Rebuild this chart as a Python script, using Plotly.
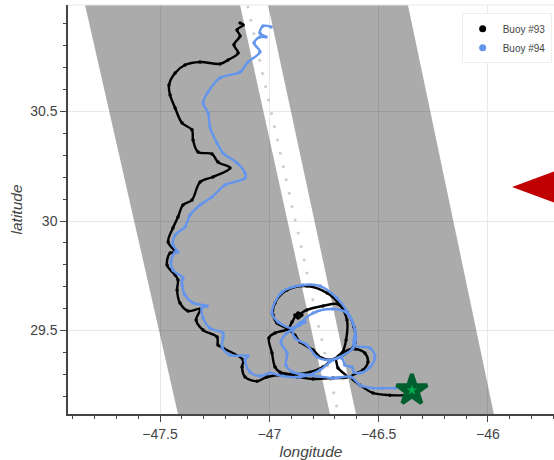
import plotly.graph_objects as go

lon93 = [-46.380,-46.448,-46.526,-46.585,-46.627,-46.572,-46.549,-46.563,-46.608,-46.663,-46.700,-46.668,-46.649,-46.645,-46.677,-46.736,-46.828,-46.919,-46.974,-46.983,-46.965,-46.915,-46.883,-46.860,-46.800,-46.759,-46.700,-46.631,-46.608,-46.613,-46.645,-46.686,-46.755,-46.828,-46.869,-46.883,-46.869,-46.851,-46.869,-46.896,-46.915,-46.974,-47.002,-46.988,-46.974,-46.951,-46.892,-46.814,-46.755,-46.700,-46.686,-46.645,-46.709,-46.800,-46.873,-46.938,-47.011,-47.056,-47.111,-47.125,-47.120,-47.212,-47.235,-47.239,-47.303,-47.335,-47.317,-47.372,-47.409,-47.422,-47.418,-47.431,-47.468,-47.454,-47.431,-47.463,-47.441,-47.418,-47.395,-47.354,-47.317,-47.258,-47.180,-47.235,-47.262,-47.326,-47.349,-47.354,-47.399,-47.431,-47.454,-47.459,-47.431,-47.386,-47.317,-47.226,-47.189,-47.143,-47.162,-47.134,-47.148,-47.120,-47.134]
lat93 = [29.205,29.205,29.215,29.251,29.288,29.320,29.356,29.397,29.416,29.402,29.370,29.397,29.457,29.548,29.616,29.671,29.703,29.685,29.626,29.571,29.534,29.507,29.479,29.448,29.411,29.374,29.370,29.411,29.443,29.516,29.584,29.621,29.612,29.594,29.571,29.571,29.557,29.571,29.580,29.539,29.507,29.489,29.466,29.397,29.333,29.310,29.301,29.310,29.333,29.370,29.329,29.288,29.283,29.279,29.288,29.297,29.288,29.269,29.288,29.333,29.365,29.420,29.434,29.470,29.502,29.548,29.598,29.589,29.626,29.685,29.731,29.753,29.799,29.854,29.858,29.904,29.968,30.018,30.073,30.096,30.178,30.201,30.242,30.269,30.306,30.315,30.370,30.416,30.447,30.516,30.575,30.621,30.676,30.712,30.726,30.717,30.735,30.767,30.804,30.845,30.872,30.895,30.904]

lon94 = [-46.425,-46.480,-46.526,-46.585,-46.627,-46.709,-46.814,-46.892,-46.924,-46.919,-46.947,-46.919,-46.860,-46.837,-46.860,-46.892,-46.883,-46.828,-46.782,-46.732,-46.691,-46.617,-46.604,-46.631,-46.691,-46.768,-46.846,-46.942,-46.988,-46.960,-46.896,-46.860,-46.800,-46.713,-46.645,-46.608,-46.613,-46.540,-46.517,-46.540,-46.585,-46.613,-46.622,-46.654,-46.668,-46.709,-46.768,-46.860,-46.938,-46.997,-47.043,-47.088,-47.111,-47.098,-47.180,-47.216,-47.212,-47.212,-47.271,-47.303,-47.308,-47.285,-47.349,-47.386,-47.399,-47.399,-47.395,-47.441,-47.450,-47.431,-47.418,-47.441,-47.431,-47.386,-47.363,-47.317,-47.262,-47.203,-47.111,-47.111,-47.148,-47.212,-47.239,-47.271,-47.280,-47.303,-47.280,-47.226,-47.134,-47.098,-47.043,-47.070,-47.043,-47.015,-47.043,-47.029,-46.992]
lat94 = [29.237,29.237,29.237,29.251,29.288,29.283,29.297,29.310,29.342,29.397,29.448,29.489,29.525,29.539,29.534,29.502,29.466,29.434,29.379,29.365,29.374,29.420,29.470,29.562,29.648,29.703,29.708,29.676,29.580,29.539,29.511,29.534,29.580,29.598,29.580,29.502,29.434,29.420,29.379,29.333,29.306,29.310,29.333,29.342,29.374,29.365,29.320,29.288,29.292,29.306,29.292,29.310,29.365,29.384,29.388,29.425,29.466,29.489,29.511,29.557,29.603,29.612,29.626,29.662,29.708,29.731,29.740,29.776,29.813,29.858,29.858,29.890,29.936,29.973,30.027,30.073,30.110,30.164,30.196,30.219,30.265,30.310,30.356,30.425,30.493,30.539,30.589,30.653,30.680,30.726,30.772,30.813,30.840,30.840,30.858,30.890,30.886]

nadir_lon = [-47.098,-47.085,-47.071,-47.058,-47.044,-47.031,-47.017,-47.004,-46.990,-46.977,-46.963,-46.950,-46.936,-46.923,-46.909,-46.896,-46.882,-46.868,-46.855,-46.841,-46.828,-46.814,-46.801,-46.787,-46.774,-46.760,-46.747,-46.733,-46.720,-46.706,-46.693]
nadir_lat = [30.977,30.916,30.856,30.795,30.734,30.673,30.613,30.552,30.491,30.431,30.370,30.309,30.248,30.188,30.127,30.066,30.005,29.945,29.884,29.823,29.763,29.702,29.641,29.581,29.520,29.459,29.398,29.338,29.277,29.216,29.156]

swath_w_lon = [-47.843,-47.134,-46.723,-47.418]
swath_w_lat = [30.986,30.986,29.119,29.119]
swath_e_lon = [-47.006,-46.366,-45.973,-46.604]
swath_e_lat = [30.986,30.986,29.119,29.119]

star_lon = [-46.348]
star_lat = [29.228]
ship_lon = [-45.890,-45.602,-45.602]
ship_lat = [30.155,30.262,30.049]

x_ticks = [-47.5,-47,-46.5,-46]
y_ticks = [29.5,30,30.5]
x_range = [-47.921,-45.698]
y_range = [29.119,30.986]

BLACK = "#000000"
BLUE = "#6495ed"
GREY = "rgba(0,0,0,0.33)"

fig = go.Figure()
for lo, la in [(swath_w_lon, swath_w_lat), (swath_e_lon, swath_e_lat)]:
    fig.add_trace(go.Scatter(x=lo, y=la, mode="lines", fill="toself", fillcolor=GREY,
                             line=dict(width=0), showlegend=False, hoverinfo="skip"))
fig.add_trace(go.Scatter(x=nadir_lon, y=nadir_lat, mode="markers",
                         marker=dict(size=3, color="#cccccc"), showlegend=False))
fig.add_trace(go.Scatter(x=lon93, y=lat93, mode="lines+markers",
                         line=dict(color=BLACK, width=2.4, shape="spline", smoothing=1.0),
                         marker=dict(size=3.5, color=BLACK), showlegend=False))
fig.add_trace(go.Scatter(x=lon94, y=lat94, mode="lines+markers",
                         line=dict(color=BLUE, width=2.4, shape="spline", smoothing=1.0),
                         marker=dict(size=3.5, color=BLUE), showlegend=False))
fig.add_trace(go.Scatter(x=ship_lon, y=ship_lat, mode="lines", fill="toself", fillcolor="#c00000",
                         line=dict(width=0), showlegend=False))
fig.add_trace(go.Scatter(x=star_lon, y=star_lat, mode="markers",
                         marker=dict(symbol="star", size=23, color="#005f2e",
                                     line=dict(color="#005f2e", width=4)), showlegend=False))
fig.add_trace(go.Scatter(x=star_lon, y=star_lat, mode="markers",
                         marker=dict(symbol="star", size=8, color="#00b050"), showlegend=False))
fig.add_trace(go.Scatter(x=[None], y=[None], mode="markers", name="Buoy #93",
                         marker=dict(size=7, color=BLACK)))
fig.add_trace(go.Scatter(x=[None], y=[None], mode="markers", name="Buoy #94",
                         marker=dict(size=7, color=BLUE)))

axis = dict(showline=True, linecolor="#444444", linewidth=1.5, ticks="outside", ticklen=6,
            tickcolor="#444444", tickwidth=1, showgrid=True, gridcolor="#e8e8e8", gridwidth=1,
            zeroline=False, tickfont=dict(family="Liberation Sans", size=14, color="#444444"),
            minor=dict(ticks="outside", ticklen=3.5, tickcolor="#444444", tickwidth=1, dtick=0.1, showgrid=False))
fig.update_layout(
    width=554, height=460, autosize=False,
    margin=dict(l=68, r=0, t=5, b=46),
    paper_bgcolor="white", plot_bgcolor="white",
    xaxis=dict(axis, range=x_range, tickvals=x_ticks, tick0=-47.5,
               title=dict(text="<i>longitude</i>", font=dict(family="Liberation Sans", size=15.5, color="#444444"), standoff=8)),
    yaxis=dict(axis, range=y_range, tickvals=y_ticks,
               title=dict(text="<i>latitude</i>", font=dict(family="Liberation Sans", size=15.5, color="#444444"), standoff=4)),
    legend=dict(x=0.81, y=0.98, xanchor="left", yanchor="top", bgcolor="white",
                bordercolor="#eeeeee", borderwidth=1, font=dict(family="Liberation Sans", size=10, color="#444444"),
                itemwidth=30),
    shapes=[dict(type="line", xref="paper", yref="paper", x0=0, x1=1, y0=1, y1=1,
                 line=dict(color="#e8e8e8", width=1))],
)
fig.write_html("out.html", config={"displayModeBar": False}, post_script="document.body.style.margin='0';")
